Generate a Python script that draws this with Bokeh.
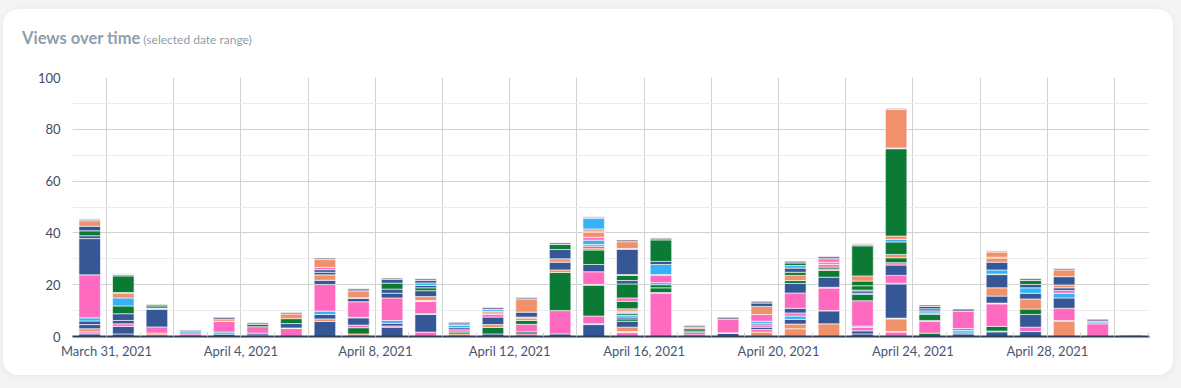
import pandas as pd
from bokeh.plotting import figure
from bokeh.layouts import column
from bokeh.models import (ColumnDataSource, Range1d, FixedTicker, SingleIntervalTicker,
                          DatetimeTickFormatter, Div)
from bokeh.transform import factor_cmap
from bokeh.embed import file_html
from bokeh.resources import INLINE

# ---------------- data ----------------
dates = pd.date_range("2021-03-30", "2021-04-30", freq="D")

series_keys = ["B", "P", "G", "O", "L", "M", "V"]
series_colors = ["#355795", "#FF6AC1", "#0B7A34", "#F0916B", "#36B3F7", "#857E9C", "#CBBFDD"]

# stack order per day (bottom -> top) and the matching values
day_series = [
    "B P O B B L P B B G B O M V",
    "B B P B B G L O M G M V",
    "O G P B V B G M",
    "P L M",
    "B L P O M",
    "B B P G M",
    "P V B G O M",
    "B O B L P B O B B P O M",
    "O G P B L P B M O M",
    "B P B L P B B G B M",
    "P B L P V O B G B L B M",
    "O G P B L B M",
    "B G O B P P O L M",
    "P G P G O P B O M",
    "B P G O B O B G M",
    "B L P G L P B G O B P L P O M O L V",
    "P V O B G B L G L P O G P G B G P B V O M",
    "P M G G L P M L B G M V",
    "P B B G O M",
    "B L P M",
    "O P B P B L P O B M",
    "O O B L P B P B G O G B L G M",
    "O B L P V B G P G P O P M",
    "B B P L P G B B M G G O G M V",
    "P V O V B L P B P G O G L O G V O V",
    "G P M G P L B B M",
    "B L B L P M",
    "B M G P V B O B G L B O M O V",
    "B P B G O B L B G M",
    "O L P B L P B O B O M",
    "P B L M",
    "M",
]
day_values = [
    [1.0, 0.8, 1.2, 1.6, 1.4, 1.2, 16.6, 14.0, 1.1, 1.9, 1.8, 2.1, 0.6, 0.3],
    [1.0, 2.9, 1.0, 1.3, 2.6, 3.0, 3.1, 1.8, 0.3, 6.4, 0.5, 0.3],
    [1.0, 0.3, 2.4, 6.8, 0.3, 0.2, 0.8, 0.6],
    [1.0, 0.8, 0.6],
    [0.9, 0.8, 4.1, 0.7, 0.9],
    [0.6, 0.7, 2.5, 0.9, 0.6],
    [3.1, 0.2, 1.7, 1.9, 1.8, 0.6],
    [5.8, 1.0, 1.7, 1.3, 10.3, 1.6, 2.1, 1.0, 1.0, 0.9, 3.0, 0.6],
    [1.0, 2.4, 1.0, 2.8, 0.2, 6.0, 1.3, 0.3, 2.6, 0.8],
    [3.6, 0.5, 1.0, 1.1, 8.7, 1.8, 1.6, 2.3, 1.5, 0.5],
    [1.7, 6.8, 0.3, 4.7, 0.4, 1.5, 2.3, 1.1, 0.9, 1.0, 0.9, 0.7],
    [1.0, 0.7, 0.9, 0.8, 0.9, 0.5, 0.7],
    [1.0, 2.5, 1.1, 2.9, 1.0, 0.6, 0.6, 0.7, 0.8],
    [1.0, 0.8, 2.9, 1.5, 0.9, 0.4, 1.9, 5.1, 0.6],
    [1.0, 9.0, 14.7, 1.0, 3.0, 1.3, 3.6, 1.9, 0.7],
    [4.6, 0.3, 3.0, 11.9, 0.3, 4.9, 2.8, 5.6, 0.8, 0.6, 0.7, 1.7, 1.1, 2.0, 0.4, 0.8, 4.2, 0.6],
    [1.5, 0.4, 1.7, 2.3, 0.9, 0.7, 0.6, 0.7, 0.5, 0.5, 0.9, 2.9, 1.3, 5.4, 1.3, 2.0, 0.3, 9.8, 0.3, 2.6, 0.7],
    [16.7, 0.3, 1.8, 1.2, 0.8, 2.8, 0.3, 3.9, 1.2, 8.3, 0.7, 0.2],
    [1.0, 0.5, 0.6, 0.9, 0.6, 0.6],
    [1.2, 0.2, 5.2, 0.8],
    [1.7, 1.0, 0.9, 0.9, 0.6, 0.8, 2.6, 3.1, 1.3, 0.7],
    [3.0, 1.8, 1.8, 1.3, 1.2, 1.8, 5.9, 3.7, 1.1, 2.0, 1.2, 1.6, 1.0, 1.0, 0.7],
    [4.9, 5.0, 0.1, 8.7, 0.3, 3.9, 2.6, 0.6, 0.7, 1.0, 0.9, 1.3, 0.9],
    [1.0, 1.2, 1.3, 0.5, 9.8, 2.5, 0.4, 0.9, 0.3, 1.7, 1.8, 2.0, 11.6, 0.6, 0.4],
    [1.7, 0.2, 4.9, 0.3, 13.2, 0.3, 3.0, 4.0, 0.9, 1.9, 1.3, 4.8, 1.0, 1.3, 33.7, 0.3, 14.9, 0.5],
    [1.3, 4.5, 0.4, 2.4, 0.5, 0.8, 0.8, 0.9, 0.6],
    [1.0, 0.8, 0.5, 0.8, 6.6, 0.9],
    [1.8, 0.3, 1.8, 8.7, 0.3, 2.7, 3.2, 5.1, 0.2, 1.6, 3.0, 1.6, 0.3, 2.0, 0.6],
    [1.9, 1.7, 4.9, 2.1, 3.9, 2.2, 2.1, 1.3, 1.5, 0.8],
    [5.9, 0.3, 4.7, 4.0, 1.8, 1.1, 1.0, 1.1, 3.2, 2.6, 0.6],
    [4.9, 0.4, 0.6, 0.8],
    [0.5],
]

label_dates = ["2021-03-31", "2021-04-04", "2021-04-08", "2021-04-12",
               "2021-04-16", "2021-04-20", "2021-04-24", "2021-04-28"]
y_ticks_interval = 20

title_text = "Views over time"
subtitle_text = "(selected date range)"

# ---------------- build ----------------
DAY = pd.Timedelta(days=1)
xs, bottoms, tops, keys = [], [], [], []
for d, s, vals in zip(dates, day_series, day_values):
    codes = s.split()
    base = 0.0
    for c, v in zip(codes, vals):
        xs.append(d + DAY / 2)
        bottoms.append(base)
        tops.append(base + v)
        keys.append(c)
        base += v

src = ColumnDataSource(dict(x=xs, bottom=bottoms, top=tops, key=keys))

CW, CH = 1170, 366                # the white card
TH = 45                           # title strip height
FL, FR, FT, FB = 69, 24, 23, 39   # borders around the frame inside the figure

x_start = dates[0] - pd.Timedelta(minutes=17)
x_end = dates[-1] + DAY + pd.Timedelta(minutes=58)

p = figure(width=CW, height=CH - TH, x_axis_type="datetime",
           x_range=Range1d(x_start, x_end), y_range=Range1d(0, 100),
           output_backend="svg", toolbar_location=None,
           min_border_left=FL, min_border_right=FR, min_border_top=FT, min_border_bottom=FB)
p.outline_line_color = None
p.border_fill_color = "white"
p.background_fill_color = "white"
p.margin = (0, 0, 0, 0)

p.vbar(x="x", bottom="bottom", top="top", width=DAY * 0.64, source=src,
       fill_color=factor_cmap("key", palette=series_colors, factors=series_keys),
       line_color="white", line_width=0.6)

# y axis
yt = SingleIntervalTicker(interval=y_ticks_interval, num_minor_ticks=2)
p.yaxis.ticker = yt
p.ygrid.ticker = yt
p.ygrid.grid_line_color = "#d2d2d2"
p.ygrid.minor_grid_line_color = "#ececec"
p.yaxis.axis_line_color = None
p.yaxis.major_tick_line_color = None
p.yaxis.minor_tick_line_color = None
p.yaxis.major_tick_out = 0
p.yaxis.minor_tick_out = 0
p.yaxis.major_label_standoff = 12
p.yaxis.major_label_text_font = "Lato"
p.yaxis.major_label_text_font_size = "13px"
p.yaxis.major_label_text_color = "#3f4b5f"

# x axis
label_ts = [pd.Timestamp(d) for d in label_dates]
minor_ts = list(pd.date_range(dates[0] + DAY, dates[-1] + DAY, freq="D"))
grid_ts = list(pd.date_range(dates[0] + DAY, dates[-1], freq="2D"))
to_ms = lambda ts: [t.value // 10**6 for t in ts]
p.xaxis.ticker = FixedTicker(ticks=to_ms(label_ts), minor_ticks=to_ms(minor_ts))
p.xgrid.ticker = FixedTicker(ticks=to_ms(grid_ts))
p.xgrid.grid_line_color = "#d2d2d2"
fmt = "%B %-d, %Y"
p.xaxis.formatter = DatetimeTickFormatter(days=fmt, months=fmt, years=fmt, hours=fmt,
                                          hourmin=fmt, minutes=fmt, minsec=fmt,
                                          seconds=fmt, milliseconds=fmt, microseconds=fmt)
p.xaxis.axis_line_color = "#2f3e56"
p.xaxis.axis_line_width = 2
p.xaxis.major_tick_in = 4
p.xaxis.major_tick_out = 0
p.xaxis.minor_tick_in = 4
p.xaxis.minor_tick_out = 0
p.xaxis.major_tick_line_color = "#cccccc"
p.xaxis.minor_tick_line_color = "#cccccc"
p.xaxis.major_label_standoff = 6
p.xaxis.major_label_text_font = "Lato"
p.xaxis.major_label_text_font_size = "13px"
p.xaxis.major_label_text_color = "#4a5670"

# title strip
title_html = (
    '<div style="padding:19px 0 0 19px; line-height:20px; white-space:nowrap; '
    'font-family:Lato, sans-serif; color:#8ba0aa;">'
    f'<span style="font-size:16.5px; font-weight:bold;">{title_text}</span>'
    f'<span style="font-size:12px;"> {subtitle_text}</span></div>'
)
title_div = Div(text=title_html, width=CW, height=TH, margin=(0, 0, 0, 0))

card = column(title_div, p, width=CW, height=CH, margin=(9, 0, 0, 3), spacing=0,
              styles={"background-color": "white", "border-radius": "16px",
                      "overflow": "hidden", "box-shadow": "0 1px 8px rgba(0,0,0,0.06)"})
page = column(card, width=1181, height=388, styles={"background-color": "#f4f4f5"})

open("out.html", "w").write(file_html(page, INLINE))
